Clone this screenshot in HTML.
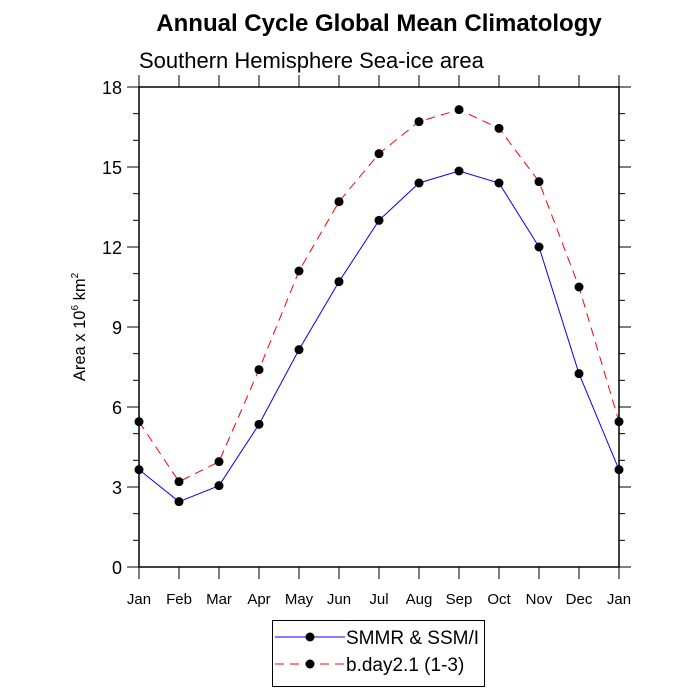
<!DOCTYPE html>
<html><head><meta charset="utf-8"><style>
body{margin:0;background:#fff;}
svg{display:block;font-family:"Liberation Sans",sans-serif;}
</style></head><body>
<svg id="c" width="700" height="700" viewBox="0 0 700 700">
<text x="379" y="31" font-size="24" font-weight="bold" text-anchor="middle">Annual Cycle Global Mean Climatology</text>
<text x="139" y="68" font-size="22">Southern Hemisphere Sea-ice area</text>
<text transform="translate(85,327) rotate(-90)" font-size="16.5" text-anchor="middle">Area x 10<tspan dy="-7" font-size="10">6</tspan><tspan dy="7"> km</tspan><tspan dy="-7" font-size="10">2</tspan></text>
<g id="axes"></g>
<g id="series"></g>
<g>
<rect x="272.5" y="620.5" width="212" height="66" fill="#fff" stroke="#000"/>
<g>
<line x1="275" y1="637" x2="345" y2="637" stroke="#00f" stroke-width="1"/>
<circle cx="310" cy="637" r="4.5" fill="#000"/>
<text x="346" y="644" font-size="19">SMMR &amp; SSM/I</text></g>
<g>
<line x1="275" y1="664" x2="345" y2="664" stroke="#f00" stroke-width="1" stroke-dasharray="9,6"/>
<circle cx="310" cy="664" r="4.5" fill="#000"/>
<text x="346" y="671" font-size="19">b.day2.1 (1-3)</text></g>
</g>
</svg>
<script>
const months=["Jan","Feb","Mar","Apr","May","Jun","Jul","Aug","Sep","Oct","Nov","Dec","Jan"];
const obsValues=[3.65,2.45,3.05,5.35,8.15,10.7,13.0,14.4,14.85,14.4,12.0,7.25,3.65];
const modelValues=[5.45,3.2,3.95,7.4,11.1,13.7,15.5,16.7,17.15,16.45,14.45,10.5,5.45];
const yTicks=[0,3,6,9,12,15,18];
const NS="http://www.w3.org/2000/svg";
const L=139,R=619,T=87,B=567,ymax=18;
function xs(i){return L+(R-L)*i/(months.length-1);}
function ys(v){return B-(B-T)*v/ymax;}
function mk(tag,attrs,parent){const e=document.createElementNS(NS,tag);for(const k in attrs)e.setAttribute(k,attrs[k]);parent.appendChild(e);return e;}
const ax=document.getElementById('axes');
const frame=mk('rect',{x:L,y:T,width:R-L,height:B-T,fill:'none',stroke:'#000','stroke-width':1.5},ax);


for(let v=0;v<=ymax;v++){
  const y=ys(v),maj=v%3===0,len=maj?12:6;
  mk('line',{x1:L-len,y1:y,x2:L,y2:y,stroke:'#000'},ax);
  mk('line',{x1:R,y1:y,x2:R+len,y2:y,stroke:'#000'},ax);
}
yTicks.forEach(v=>{
  const t=mk('text',{x:L-17,y:ys(v)+7,'font-size':18,'text-anchor':'end'},ax);
  t.textContent=v;
  
  
});
months.forEach((m,i)=>{
  const x=xs(i);
  mk('line',{x1:x,y1:B,x2:x,y2:B+12,stroke:'#000'},ax);
  mk('line',{x1:x,y1:T-12,x2:x,y2:T,stroke:'#000'},ax);
  const t=mk('text',{x:x,y:B+37,'font-size':15,'text-anchor':'middle'},ax);
  t.textContent=m;
  
  
});
const sg=document.getElementById('series');
function drawSeries(vals,color,dash,name){
  const g=mk('g',{},sg);
  
  
  const pts=vals.map((v,i)=>xs(i)+','+ys(v)).join(' ');
  const pl=mk('polyline',{points:pts,fill:'none',stroke:color,'stroke-width':1},g);
  if(dash)pl.setAttribute('stroke-dasharray',dash);
  vals.forEach((v,i)=>{
    const c=mk('circle',{cx:xs(i),cy:ys(v),r:4.5,fill:'#000'},g);
    
    
  });
}
drawSeries(modelValues,'#f00','9,6','series-bday');
drawSeries(obsValues,'#00f',null,'series-smmr');
</script>
</body></html>
